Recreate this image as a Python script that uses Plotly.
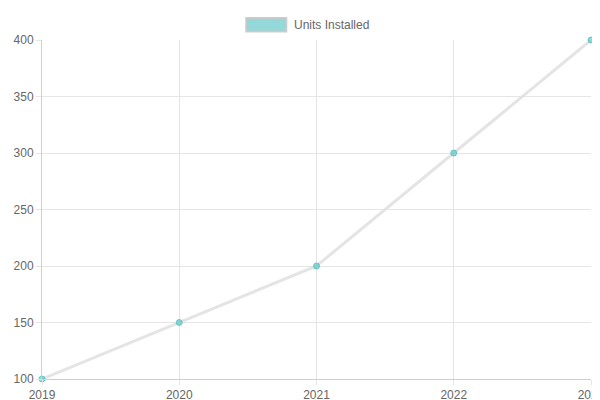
import plotly.graph_objects as go

years = ["2019", "2020", "2021", "2022", "2023"]
units = [100, 150, 200, 300, 400]

fig = go.Figure()
fig.add_trace(go.Scatter(
    x=list(range(len(years))), y=units, mode='lines+markers', name='Units Installed',
    line=dict(color='rgba(225,225,225,0.9)', width=3),
    marker=dict(color='rgba(75,192,192,0.6)', size=6, line=dict(color='rgba(75,192,192,0.8)', width=1)),
    cliponaxis=False, showlegend=False,
))

# legend drawn like Chart.js: box + label
fig.add_shape(type='rect', xref='paper', yref='paper', x0=0.372, x1=0.445, y0=1.025, y1=1.065,
              fillcolor='rgba(75,192,192,0.6)', line=dict(color='rgba(200,200,200,0.9)', width=2))
fig.add_annotation(text='Units Installed', xref='paper', yref='paper', x=0.455, y=1.045,
                   xanchor='left', yanchor='middle', showarrow=False,
                   font=dict(size=12, color='#666'))

fig.update_layout(
    width=600, height=400,
    paper_bgcolor='white', plot_bgcolor='white',
    margin=dict(l=34, r=17, t=32, b=29),
    font=dict(family='Liberation Sans, Arial', size=12, color='#666'),
    xaxis=dict(tickmode='array', tickvals=list(range(len(years))), ticktext=years,
               range=[0, 4], showgrid=True, gridcolor='#e5e5e5', zeroline=False, automargin=False,
               showline=True, linecolor='#cfcfcf', ticks='outside', ticklen=5, tickcolor='#e5e5e5'),
    yaxis=dict(range=[100, 400], dtick=50, showgrid=True, gridcolor='#e5e5e5', zeroline=False,
               automargin=False,
               showline=True, linecolor='#cfcfcf', ticks='outside', ticklen=5, tickcolor='#e5e5e5'),
)
fig.write_html("out.html")
